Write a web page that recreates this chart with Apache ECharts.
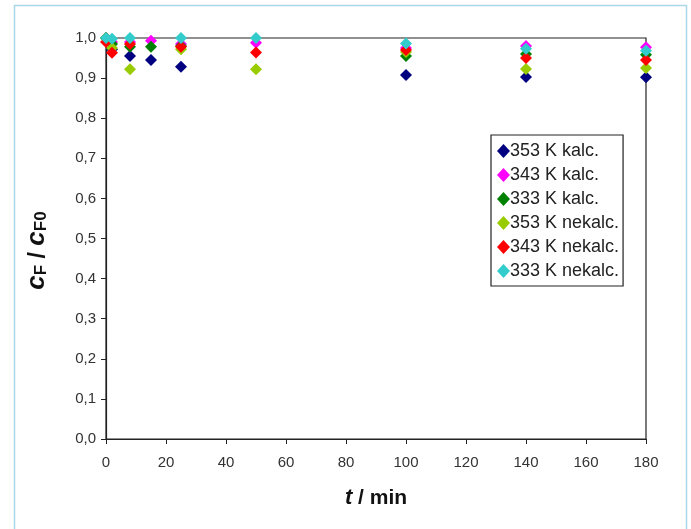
<!DOCTYPE html>
<html>
<head>
<meta charset="utf-8">
<script src="https://cdn.jsdelivr.net/npm/echarts@6/dist/echarts.min.js"></script>
<style>
html, body { margin: 0; padding: 0; background: #fff; }
#main { width: 691px; height: 529px; }
</style>
</head>
<body>
<div id="main"></div>
<script>
// t / min and c_F / c_F0
var seriesNames = ['353 K kalc.', '343 K kalc.', '333 K kalc.', '353 K nekalc.', '343 K nekalc.', '333 K nekalc.'];
var colors = ['#000080', '#ff00ff', '#008000', '#99cc00', '#ff0000', '#33cccc'];

var k353 = [[0, 1.0], [2, 0.972], [8, 0.955], [15, 0.945], [25, 0.928], [100, 0.908], [140, 0.903], [180, 0.902]];
var k343 = [[0, 1.0], [2, 0.99], [8, 0.99], [15, 0.993], [25, 0.985], [50, 0.988], [100, 0.975], [140, 0.98], [180, 0.977]];
var k333 = [[0, 1.0], [2, 0.985], [8, 0.978], [15, 0.978], [25, 0.98], [100, 0.955], [140, 0.96], [180, 0.958]];
var n353 = [[0, 1.0], [2, 0.975], [8, 0.922], [25, 0.972], [50, 0.922], [100, 0.965], [140, 0.923], [180, 0.925]];
var n343 = [[0, 0.99], [2, 0.963], [8, 0.985], [25, 0.978], [50, 0.964], [100, 0.97], [140, 0.95], [180, 0.945]];
var n333 = [[0, 1.0], [2, 0.998], [8, 1.0], [25, 1.0], [50, 1.0], [100, 0.986], [140, 0.973], [180, 0.968]];
var allData = [k353, k343, k333, n353, n343, n333];

var myChart = echarts.init(document.getElementById('main'));

var series = seriesNames.map(function (n, i) {
    return {
        name: n,
        type: 'scatter',
        symbol: 'diamond',
        symbolSize: 12,
        itemStyle: { color: colors[i], opacity: 1 },
        data: allData[i],
        z: 3 + i
    };
});

var option = {
    animation: false,
    backgroundColor: '#fff',
    textStyle: { fontFamily: 'Liberation Sans, Arial, sans-serif' },
    graphic: [
        {
            type: 'rect',
            shape: { x: 14.5, y: 5.5, width: 672, height: 540 },
            style: { fill: 'none', stroke: '#a8d8e8', lineWidth: 1.5 },
            silent: true
        }
    ],
    grid: { left: 106, right: 45, top: 38, bottom: 90, show: true, borderColor: '#222', borderWidth: 1.2, backgroundColor: 'transparent' },
    legend: {
        orient: 'vertical',
        left: 491,
        top: 135,
        itemGap: 6,
        itemWidth: 13,
        itemHeight: 14,
        padding: [7, 4, 6, 6],
        borderColor: '#222',
        borderWidth: 1.2,
        textStyle: { fontSize: 18, color: '#222', padding: [0, 0, 0, -5] },
        data: seriesNames.map(function (n) { return { name: n, icon: 'diamond' }; })
    },
    xAxis: {
        type: 'value',
        min: 0,
        max: 180,
        interval: 20,
        splitLine: { show: false },
        axisLine: { onZero: false, lineStyle: { color: '#222', width: 1.2 } },
        axisTick: { length: 5, lineStyle: { color: '#222' } },
        axisLabel: { fontSize: 15, color: '#333', margin: 16 },
        name: '{t|t}{n| / min}',
        nameLocation: 'middle',
        nameGap: 48,
        nameTextStyle: {
            rich: {
                t: { fontSize: 22, fontWeight: 'bold', fontStyle: 'italic', color: '#111' },
                n: { fontSize: 21, fontWeight: 'bold', color: '#111' }
            }
        }
    },
    yAxis: {
        type: 'value',
        min: 0,
        max: 1,
        interval: 0.1,
        splitLine: { show: false },
        axisLine: { onZero: false, lineStyle: { color: '#222', width: 1.2 } },
        axisTick: { length: 5, lineStyle: { color: '#222' } },
        axisLabel: {
            fontSize: 15, color: '#333', margin: 10,
            formatter: function (v) { return v.toFixed(1).replace('.', ','); }
        },
        name: '{c|c}{s|F}{n| / }{c|c}{s|F0}',
        nameLocation: 'middle',
        nameGap: 56,
        nameTextStyle: {
            padding: [0, 24, 0, 0],
            rich: {
                c: { fontSize: 26, fontWeight: 'bold', fontStyle: 'italic', color: '#111', verticalAlign: 'bottom', lineHeight: 26 },
                s: { fontSize: 17, fontWeight: 'bold', color: '#111', verticalAlign: 'bottom', lineHeight: 19 },
                n: { fontSize: 23, fontWeight: 'bold', color: '#111', verticalAlign: 'bottom', lineHeight: 26 }
            }
        }
    },
    series: series
};

myChart.setOption(option);
</script>
</body>
</html>
